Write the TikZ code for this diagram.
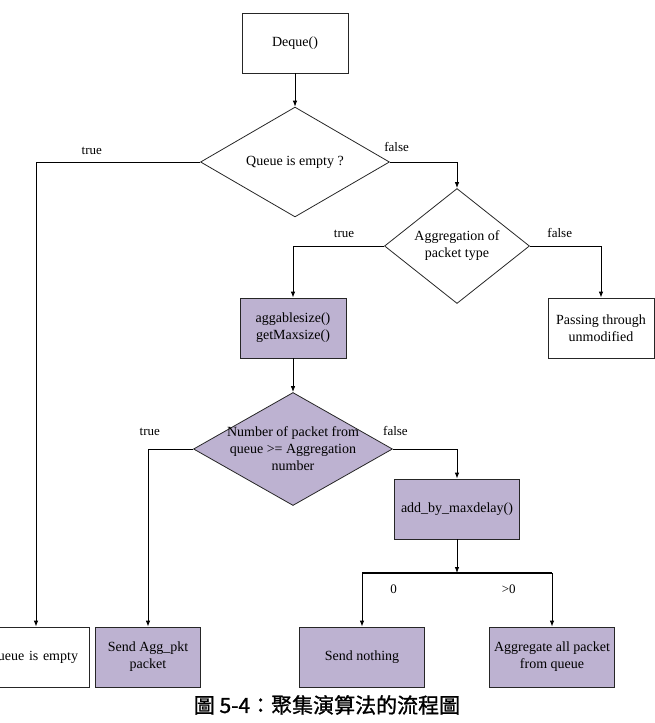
\documentclass[tikz,border=0pt]{standalone}
\usepackage{fontspec}
\setmainfont{Liberation Serif}
\newfontfamily\cjkfont{Noto Sans CJK TC}[FakeBold=1.2]
\usetikzlibrary{shapes.geometric, arrows.meta, positioning}
\definecolor{lavender}{RGB}{189,178,209}
\tikzstyle{process} = [rectangle, minimum width=106pt, minimum height=60pt, text centered, align=center, draw=black!85, line width=0.8pt]
\tikzstyle{action} = [process, fill=lavender]
\tikzstyle{decision} = [diamond, inner sep=0pt, text centered, align=center, draw=black!85, line width=0.8pt]
\tikzstyle{arrow} = [line width=0.8pt,->,>={Latex[length=6pt,width=4.5pt]}]
\tikzstyle{lbl} = [font=\fontsize{13}{15}\selectfont, inner sep=2pt]

\begin{document}
\begin{tikzpicture}[x=1pt, y=1pt, on grid, font=\fontsize{14}{17}\selectfont]
            \useasboundingbox (0,0) rectangle (654,-723);
            \node (deque) [process] at (295,-43) {Deque()};
            \node (empty) [decision, minimum width=189pt, minimum height=105pt, below=119pt of deque] {Queue is empty ?};
            \node (aggtype) [decision, minimum width=145pt, minimum height=83pt, below right=84pt and 162pt of empty] {Aggregation of\\packet type};
            \node (aggsize) [action, below left=82pt and 164pt of aggtype] {aggablesize()\\getMaxsize()};
            \node (passing) [process, below right=82pt and 144pt of aggtype] {Passing through\\unmodified};
            \node (number) [decision, fill=lavender, aspect=1.76, inner xsep=-15pt, inner ysep=-5pt, minimum width=199pt, minimum height=113pt, below=121pt of aggsize] {Number of packet from\\queue >= Aggregation\\number};
            \node (maxdelay) [action, minimum width=125pt, below right=60pt and 164pt of number] {add\_by\_maxdelay()};
            \node (sendagg) [action, minimum width=105pt, below left=208pt and 145pt of number] {Send Agg\_pkt\\packet};
            \node (qempty) [process, inner xsep=11pt, text width=84pt, align=right, left=112pt of sendagg] {ueue is empty};
            \node (sendnothing) [action, minimum width=125pt, below left=148pt and 95pt of maxdelay] {Send nothing};
            \node (aggall) [action, minimum width=125pt, below right=148pt and 95pt of maxdelay] {Aggregate all packet\\from queue};
            \coordinate [below=64pt of maxdelay] (split);
            \node (caption) [below left=48pt and 35pt of sendnothing, font=\cjkfont\fontsize{21}{24}\selectfont] {圖 5-4：聚集演算法的流程圖};

            \draw [arrow] (deque) -- (empty);
            \draw [arrow] (empty.west) -| node[lbl, pos=0.33, above=5pt]{true} (qempty.north);
            \draw [arrow] (empty.east) -| node[lbl, pos=0.05, above=8pt]{false} (aggtype.north);
            \draw [arrow] (aggtype.west) -| node[lbl, pos=0.22, above=6pt]{true} (aggsize.north);
            \draw [arrow] (aggtype.east) -| node[lbl, pos=0.21, above=6pt]{false} (passing.north);
            \draw [arrow] (aggsize) -- (number);
            \draw [arrow] (number.west) -| node[lbl, pos=0.48, above=11pt]{true} (sendagg.north);
            \draw [arrow] (number.east) -| node[lbl, pos=0.02, above=11pt]{false} (maxdelay.north);
            \draw [arrow] (maxdelay) -- (split);
            \draw [line width=1.4pt] (sendnothing.north |- split) -- (aggall.north |- split);
            \draw [arrow] (sendnothing.north |- split) -- node[lbl, pos=0.3, anchor=west, xshift=26pt]{0} (sendnothing.north);
            \draw [arrow] (aggall.north |- split) -- node[lbl, pos=0.3, anchor=east, xshift=-34pt]{>0} (aggall.north);
\end{tikzpicture}
\end{document}
